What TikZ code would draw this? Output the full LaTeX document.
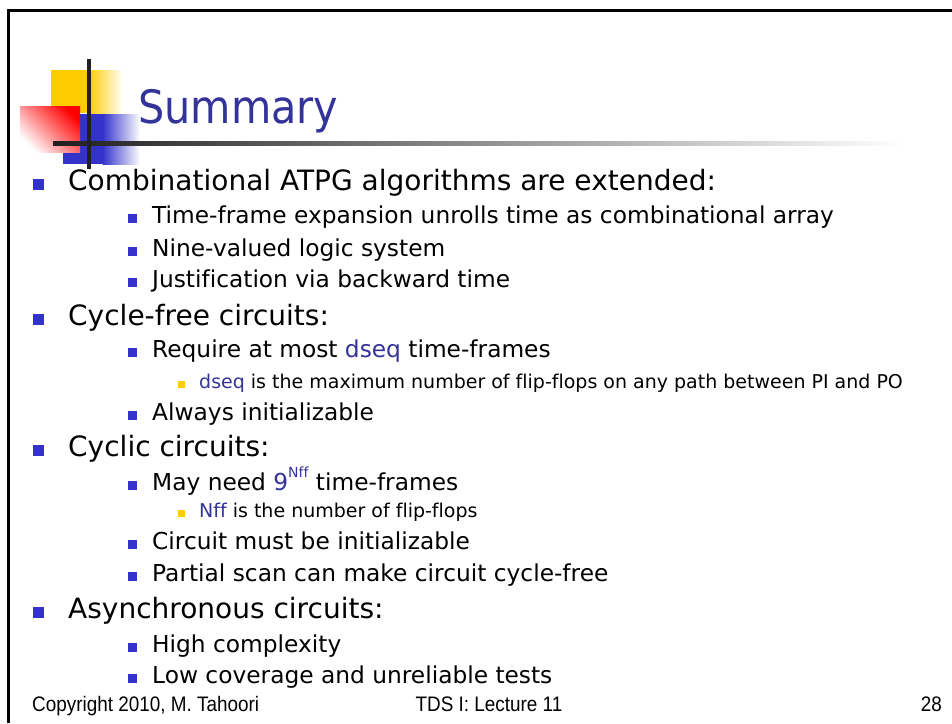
\documentclass[tikz,border=0pt]{standalone}
\usepackage{fontspec}
\setmainfont[Ligatures=NoCommon]{DejaVu Sans}
\newfontfamily\titlefont[FakeStretch=0.9]{DejaVu Sans}
\newfontfamily\footfont[FakeStretch=0.9]{Liberation Sans}
\definecolor{tblue}{HTML}{333399}
\definecolor{bblue}{HTML}{3333CC}
\definecolor{byel}{HTML}{FFCC00}
\begin{document}
\begin{tikzpicture}[x=1pt,y=-1pt,
  lone/.style={anchor=base west,inner sep=0pt,font=\fontsize{28}{30}\selectfont},
  ltwo/.style={anchor=base west,inner sep=0pt,font=\fontsize{23.3}{26}\selectfont},
  lthree/.style={anchor=base west,inner sep=0pt,font=\fontsize{19}{22}\selectfont},
  bone/.style={fill=bblue,minimum size=11pt,inner sep=0pt,anchor=south},
  btwo/.style={fill=bblue,minimum size=8.5pt,inner sep=0pt,anchor=south},
  bthree/.style={fill=byel,minimum size=7pt,inner sep=0pt,anchor=south},
  foot/.style={inner sep=0pt,font=\footfont\fontsize{21}{24}\selectfont}]
\useasboundingbox (0,0) rectangle (952,723);
\fill[white] (0,0) rectangle (952,723);
% frame
\draw[line width=3pt] (8,723) -- (8,10) -- (952,10);
% logo
\fill[byel] (51,70) rectangle (89,113);
\shade[left color=byel,right color=white] (88.5,70) rectangle (123,113);
\fill[bblue] (63,114) rectangle (103,164);
\shade[left color=bblue,right color=white] (102.5,114) rectangle (140,164);
\shade[shading=axis,top color=red,bottom color=white,shading angle=-45] (20,106) rectangle (80,152);
\shade[left color=black!88,middle color=black!35,right color=white] (53,141) rectangle (903,145);
\fill[black!87] (87,59) rectangle (91,169);
% title
\node[anchor=base west,inner sep=0pt,text=tblue,font=\titlefont\fontsize{46}{50}\selectfont] (title) at (138,123) {Summary};
% items
\node[bone] (b1) at (38.5,190) {};
\node[lone] (t1) at (68,190) {Combinational ATPG algorithms are extended:};
\node[btwo] (b2) at (132.5,223) {};
\node[ltwo] (t2) at (152,223) {Time-frame expansion unrolls time as combinational array};
\node[btwo] (b3) at (132.5,256) {};
\node[ltwo] (t3) at (152,256) {Nine-valued logic system};
\node[btwo] (b4) at (132.5,287) {};
\node[ltwo] (t4) at (152,287) {Justification via backward time};
\node[bone] (b5) at (38.5,325) {};
\node[lone] (t5) at (68,325) {Cycle-free circuits:};
\node[btwo] (b6) at (132.5,357) {};
\node[ltwo] (t6) at (152,357) {Require at most {\color{tblue}dseq} time-frames};
\node[bthree] (b7) at (181.5,388) {};
\node[lthree] (t7) at (199,388) {{\color{tblue}dseq} is the maximum number of flip-flops on any path between PI and PO};
\node[btwo] (b8) at (132.5,420) {};
\node[ltwo] (t8) at (152,420) {Always initializable};
\node[bone] (b9) at (38.5,456) {};
\node[lone] (t9) at (68,456) {Cyclic circuits:};
\node[btwo] (b10) at (132.5,490) {};
\node[ltwo] (t10) at (152,490) {May need {\color{tblue}9\raisebox{13pt}{\fontsize{14}{14}\selectfont Nff}} time-frames};
\node[bthree] (b11) at (181.5,517) {};
\node[lthree] (t11) at (199,517) {{\color{tblue}Nff} is the number of flip-flops};
\node[btwo] (b12) at (132.5,549) {};
\node[ltwo] (t12) at (152,549) {Circuit must be initializable};
\node[btwo] (b13) at (132.5,581) {};
\node[ltwo] (t13) at (152,581) {Partial scan can make circuit cycle-free};
\node[bone] (b14) at (38.5,618) {};
\node[lone] (t14) at (68,618) {Asynchronous circuits:};
\node[btwo] (b15) at (132.5,652) {};
\node[ltwo] (t15) at (152,652) {High complexity};
\node[btwo] (b16) at (132.5,683) {};
\node[ltwo] (t16) at (152,683) {Low coverage and unreliable tests};
% footer
\node[foot,anchor=base west] (f1) at (32,711) {Copyright 2010, M. Tahoori};
\node[foot,anchor=base] (f2) at (489,711) {TDS I: Lecture 11};
\node[foot,anchor=base east] (f3) at (942,711) {28};
\end{tikzpicture}
\end{document}
